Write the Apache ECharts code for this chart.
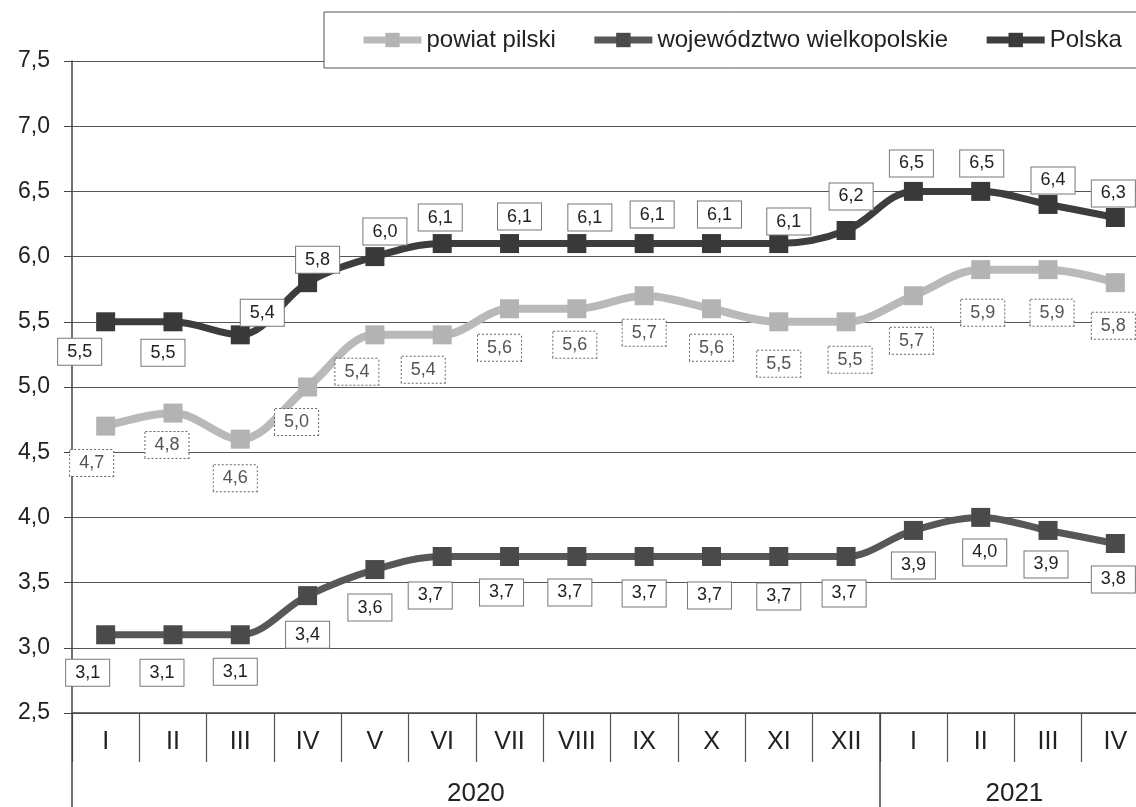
<!DOCTYPE html>
<html>
<head>
<meta charset="utf-8">
<script src="https://cdn.jsdelivr.net/npm/echarts@6/dist/echarts.min.js"></script>
<style>
html,body{margin:0;padding:0;background:#fff;}
#chart{width:1136px;height:807px;}
</style>
</head>
<body>
<div id="chart"></div>
<script>
// ---- data ----
const months = ['I','II','III','IV','V','VI','VII','VIII','IX','X','XI','XII','I','II','III','IV'];
const years = ['2020','2021'];
const yearCenters = [6, 14];      // in category units
const yearBounds = [0, 12, 16];   // in category units
const seriesNames = ['powiat pilski','województwo wielkopolskie','Polska'];
const powiatPilski = [4.7,4.8,4.6,5.0,5.4,5.4,5.6,5.6,5.7,5.6,5.5,5.5,5.7,5.9,5.9,5.8];
const wojewodztwo  = [3.1,3.1,3.1,3.4,3.6,3.7,3.7,3.7,3.7,3.7,3.7,3.7,3.9,4.0,3.9,3.8];
const polska       = [5.5,5.5,5.4,5.8,6.0,6.1,6.1,6.1,6.1,6.1,6.1,6.2,6.5,6.5,6.4,6.3];
const yMin = 2.5, yMax = 7.5, yStep = 0.5;

// ---- label placement (layout only) ----
const offPowiat = [[-14,37],[-6,32],[-5,39],[-11,35],[-18,37],[-19,35],[-10,39],[-2,36],[0,37],[0,39],[0,42],[4,38],[-2,45],[2,43],[4,43],[-2,43]];
const offWoj    = [[-18,38],[-11,38],[-5,37],[0,39],[-5,38],[-12,39],[-8,36],[-7,36],[0,37],[-2,39],[0,40],[-2,37],[0,35],[4,35],[-2,34],[-2,36]];
const offPolska = [[-26,30],[-10,31],[22,-22],[10,-23],[10,-25],[-2,-26],[10,-27],[13,-26],[8,-29],[8,-29],[10,-22],[5,-34],[-2,-28],[1,-28],[5,-24],[-2,-24]];

const FONT = '"Liberation Sans", Arial, sans-serif';
const fmt = v => v.toFixed(1).replace('.', ',');

function mk(values, offs) {
  return values.map((v, i) => ({ value: v, label: { offset: offs[i] } }));
}
function labelCfg(textColor, borderColor, borderType) {
  return {
    show: true,
    position: 'inside',
    formatter: p => fmt(p.value),
    fontFamily: FONT,
    fontSize: 18,
    color: textColor,
    backgroundColor: '#fff',
    borderColor: borderColor,
    borderWidth: 1,
    borderType: borderType,
    padding: [5, 9, 3, 9]
  };
}

const chart = echarts.init(document.getElementById('chart'), null, {renderer: 'canvas'});
chart.setOption({
  animation: false,
  backgroundColor: '#fff',
  grid: { left: 72, top: 61, width: 1077, height: 652, containLabel: false, outerBoundsMode: 'none' },
  legend: {
    left: 324, top: 12, width: 800,
    padding: [16, 30, 16, 36],
    itemGap: 35,
    itemWidth: 58, itemHeight: 18,
    borderColor: '#555', borderWidth: 1,
    backgroundColor: '#fff',
    lineStyle: { width: 7 },
    textStyle: { fontFamily: FONT, fontSize: 24, color: '#222' },
    data: seriesNames
  },
  xAxis: [{
    type: 'category',
    data: months,
    boundaryGap: true,
    axisLine: { show: true, lineStyle: { color: '#444', width: 1.5 } },
    axisTick: { show: true, length: 49, interval: 0, lineStyle: { color: '#555', width: 1.2 } },
    axisLabel: { interval: 0, margin: 17, fontFamily: FONT, fontSize: 25, color: '#222' },
    splitLine: { show: false }
  }, {
    type: 'value',
    min: 0, max: 16,
    position: 'bottom',
    axisLine: { show: false },
    axisTick: { show: true, customValues: yearBounds, length: 100, lineStyle: { color: '#444', width: 1.5 } },
    axisLabel: { show: true, customValues: yearCenters, margin: 68,
      formatter: v => years[yearCenters.indexOf(v)] || '',
      fontFamily: FONT, fontSize: 26, color: '#222' },
    splitLine: { show: false }
  }],
  yAxis: {
    type: 'value',
    min: yMin, max: yMax, interval: yStep,
    axisLine: { show: true, lineStyle: { color: '#444', width: 1.5 } },
    axisTick: { show: true, length: 8, lineStyle: { color: '#444' } },
    axisLabel: { margin: 22, fontFamily: FONT, fontSize: 23, color: '#222', formatter: v => fmt(v) },
    splitLine: { show: true, lineStyle: { color: '#555', width: 1.2 } }
  },
  series: [{
    name: seriesNames[0],
    type: 'line',
    smooth: 0.35,
    data: mk(powiatPilski, offPowiat),
    symbol: 'rect', symbolSize: 19,
    lineStyle: { color: '#b9b9b9', width: 8 },
    itemStyle: { color: '#b3b3b3' },
    label: labelCfg('#555', '#666', 'dotted'),
    z: 2
  }, {
    name: seriesNames[1],
    type: 'line',
    smooth: 0.35,
    data: mk(wojewodztwo, offWoj),
    symbol: 'rect', symbolSize: 19,
    lineStyle: { color: '#575757', width: 7 },
    itemStyle: { color: '#4a4a4a' },
    label: labelCfg('#222', '#777', 'solid'),
    z: 3
  }, {
    name: seriesNames[2],
    type: 'line',
    smooth: 0.35,
    data: mk(polska, offPolska),
    symbol: 'rect', symbolSize: 19,
    lineStyle: { color: '#3d3d3d', width: 7 },
    itemStyle: { color: '#393939' },
    label: labelCfg('#222', '#777', 'solid'),
    z: 4
  }]
});
</script>
</body>
</html>
